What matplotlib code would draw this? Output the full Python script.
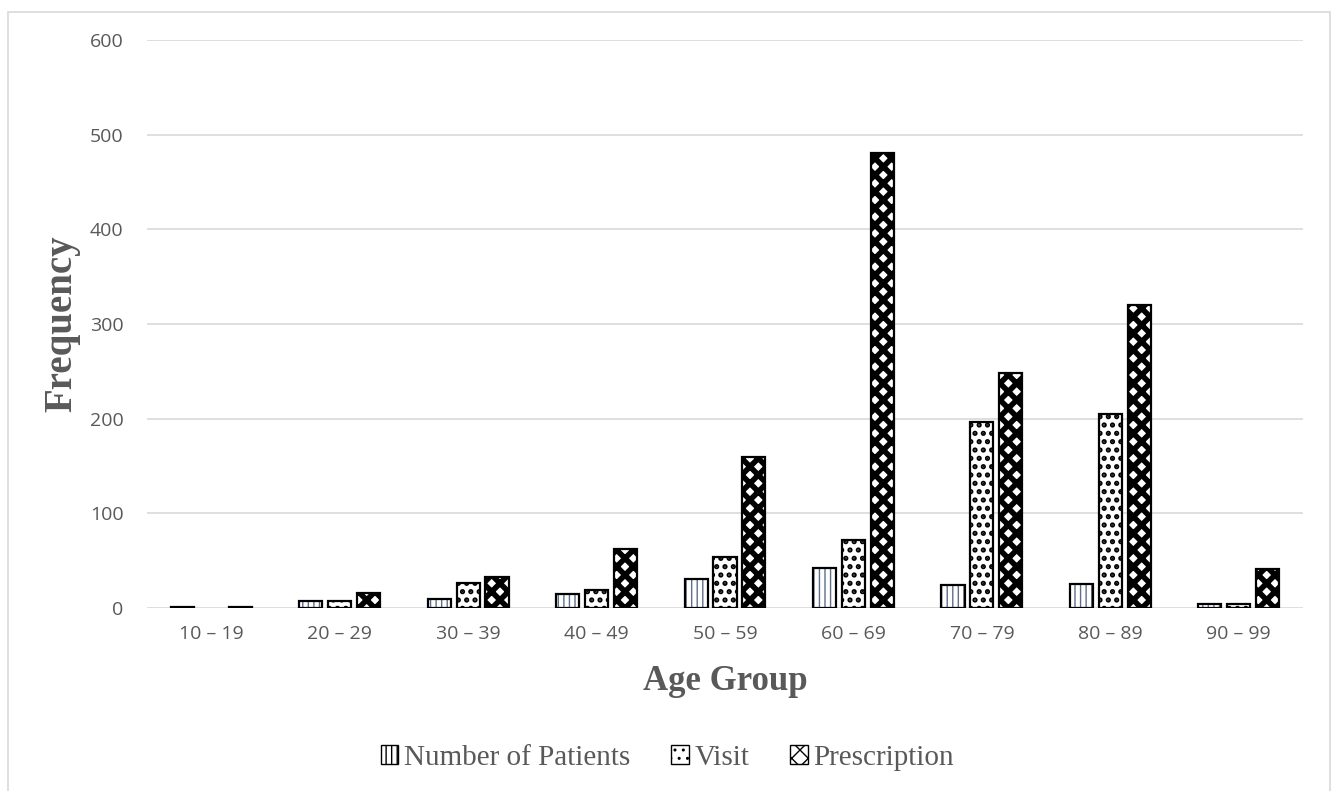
import matplotlib
matplotlib.use("Agg")
import matplotlib.pyplot as plt
import numpy as np
from matplotlib.patches import Patch, Rectangle

# data
age_groups = ["10 – 19", "20 – 29", "30 – 39", "40 – 49", "50 – 59",
              "60 – 69", "70 – 79", "80 – 89", "90 – 99"]
patients = [1, 7, 10, 15, 31, 42, 24, 25, 4]
visits = [0, 7, 26, 19, 54, 72, 196, 205, 4]
prescriptions = [1, 16, 33, 62, 160, 481, 248, 320, 41]

series_names = ["Number of Patients", "Visit", "Prescription"]

grey_text = "#595959"
grid_col = "#d9d9d9"

fig = plt.figure(figsize=(13.35, 7.91), dpi=100)
ax = fig.add_axes([147 / 1335, 183 / 791, 1156 / 1335, 568 / 791])

# outer frame like the office chart area
fig.patches.append(Rectangle((8 / 1335, -0.05), 1322 / 1335, 1.05 - 12 / 791,
                             transform=fig.transFigure, fill=False,
                             edgecolor=grid_col, linewidth=1.2))

x = np.arange(len(age_groups))
width = 0.18
step = 0.225

styles = [
    dict(hatch="|||", hcol="#5f6f8a", hlw=1.0),
    dict(hatch="..", hcol="black", hlw=2.5),
    dict(hatch="xx", hcol="black", hlw=4.0),
]
data = [patients, visits, prescriptions]

for i, (vals, st) in enumerate(zip(data, styles)):
    pos = x + (i - 1) * step
    edges = ["black" if v > 0 else "none" for v in vals]
    with plt.rc_context({"hatch.linewidth": st["hlw"]}):
        ax.bar(pos, vals, width, color="white", edgecolor=st["hcol"],
               hatch=st["hatch"], linewidth=0, zorder=3)
    ax.bar(pos, vals, width, fill=False, edgecolor=edges,
           linewidth=1.6, zorder=4)

ax.set_ylim(0, 600)
ax.set_xlim(-0.5, len(age_groups) - 0.5)
ax.set_yticks(range(0, 601, 100))
ax.set_xticks(x)
ax.set_xticklabels(age_groups)
ax.grid(axis="y", color=grid_col, linewidth=1.2, zorder=0)
ax.set_axisbelow(True)
for s in ax.spines.values():
    s.set_visible(False)
ax.tick_params(length=0, labelsize=14, labelcolor=grey_text)
ax.tick_params(axis="x", pad=12)
ax.tick_params(axis="y", pad=17)
for lab in ax.get_xticklabels() + ax.get_yticklabels():
    lab.set_fontfamily("Open Sans")

ax.set_xlabel("Age Group", family="Liberation Serif", weight="bold",
              size=25, color=grey_text, va="center")
ax.set_ylabel("Frequency", family="Liberation Serif", weight="bold",
              size=28, color=grey_text, va="center")
ax.xaxis.set_label_coords(0.5, (608 - 681) / 568)
ax.yaxis.set_label_coords((62 - 147) / 1156, 0.5)

handles = []
for name, st in zip(series_names, styles):
    with plt.rc_context({"hatch.linewidth": st["hlw"]}):
        handles.append(Patch(facecolor="white", edgecolor="black",
                             hatch=st["hatch"], label=name))
fig.legend(handles=handles, loc="center", bbox_to_anchor=(0.5, 0.042),
           ncol=3, frameon=False, handlelength=0.6, handleheight=0.6,
           handletextpad=0.2, columnspacing=1.4,
           prop={"family": "Liberation Serif", "size": 21},
           labelcolor=grey_text)

fig.savefig("out.png", dpi=100)
